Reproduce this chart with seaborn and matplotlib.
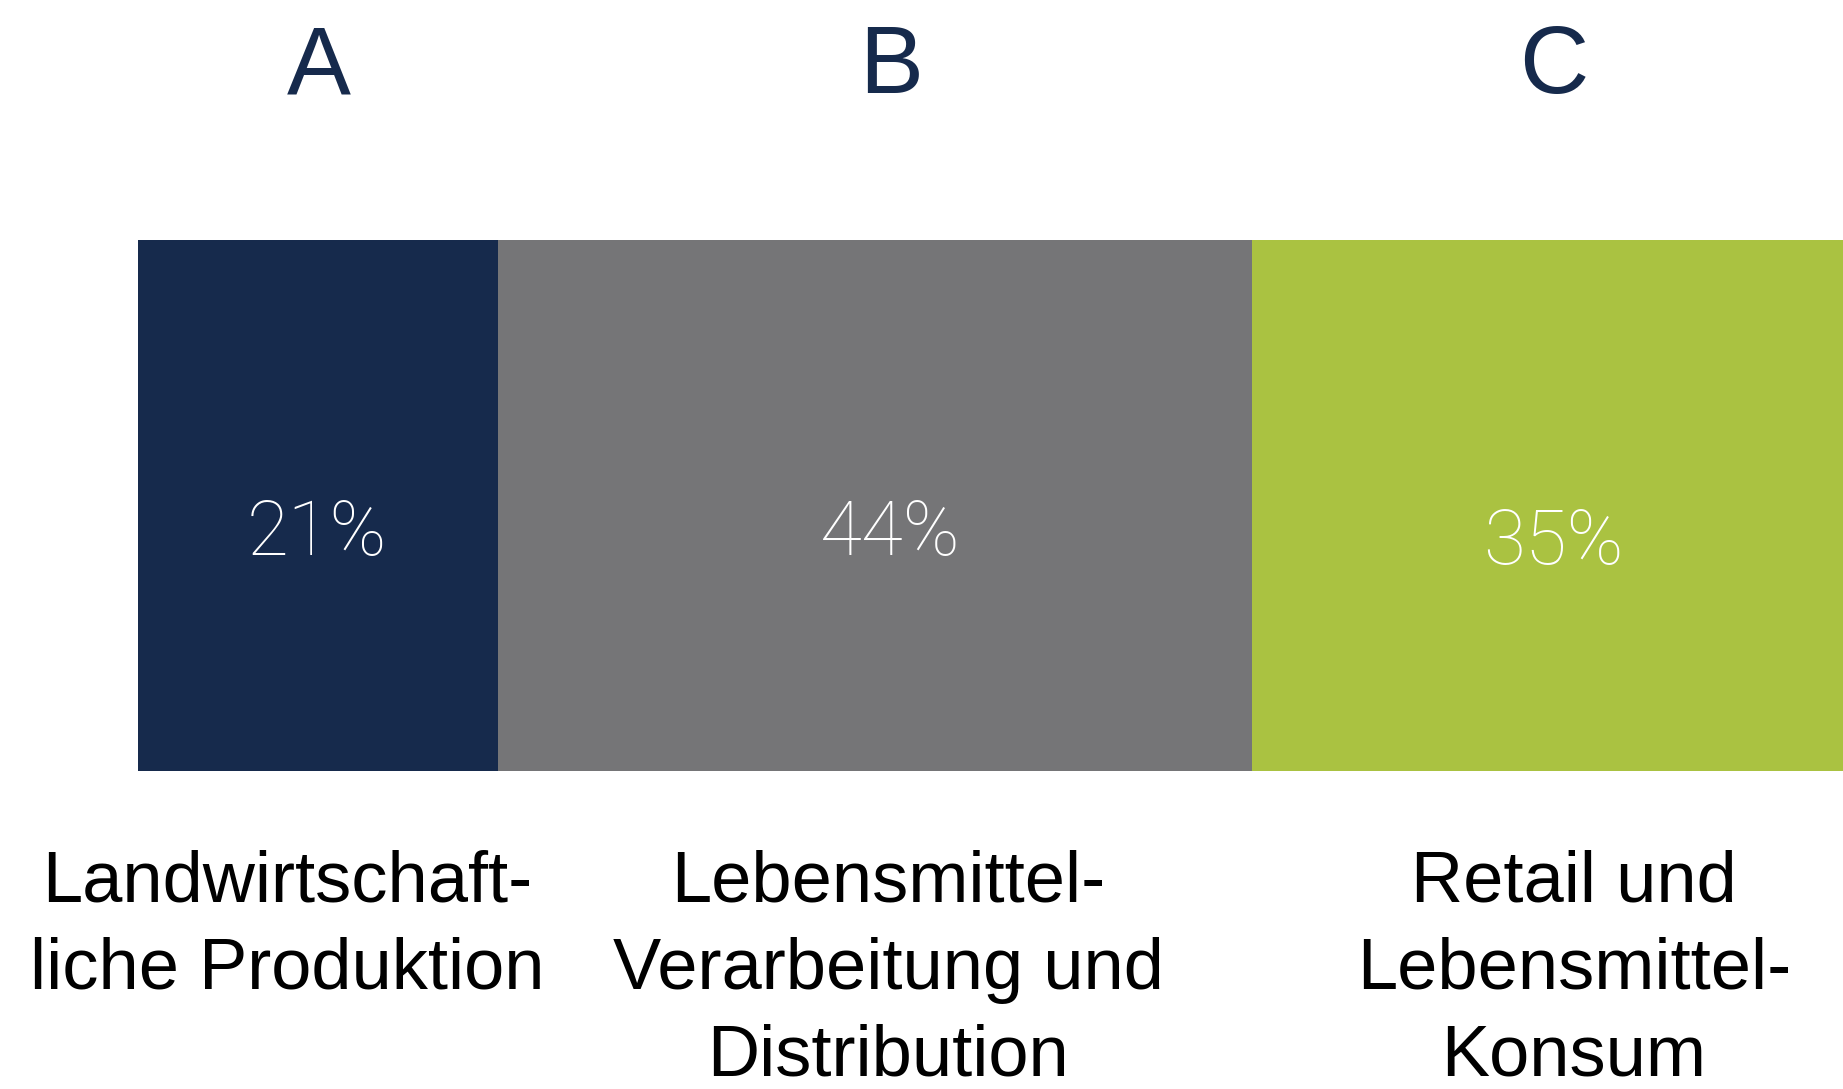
import numpy as np
import pandas as pd
import seaborn as sns
import matplotlib
matplotlib.use('Agg')
import matplotlib.pyplot as plt

# Daten
stufen = ['A', 'B', 'C']
anteile = [21, 44, 35]
beschriftungen = ['Landwirtschaft-\nliche Produktion',
                  'Lebensmittel-\nVerarbeitung und\nDistribution',
                  'Retail und\nLebensmittel-\nKonsum']
farben = ['#162A4C', '#757577', '#AAC241']

df = pd.DataFrame({'stufe': stufen, 'anteil': anteile})
df['kumuliert'] = np.cumsum(df['anteil'])

sns.set_theme(style='white')
plt.rcParams['font.family'] = ['Liberation Sans', 'DejaVu Sans']

W, H = 1843, 1089
fig = plt.figure(figsize=(W / 100, H / 100), dpi=100)
ax = fig.add_axes([137.5 / W, 1 - 771 / H, (1852 - 137.5) / W, (771 - 240) / H])

# gestapelter Balken: kumulierte Balken von hinten nach vorne
for i in reversed(range(len(df))):
    sns.barplot(x=[df['kumuliert'][i]], y=['Kette'], orient='h', color=farben[i],
                width=1, saturation=1, linewidth=0, ax=ax)

ax.set_xlim(0, 100)
ax.set_ylim(0.5, -0.5)
ax.axis('off')

# Positionen (Pixel)
x_buchst = [318.7, 891, 1554]
x_proz = [317, 890, 1553]
y_proz = [555, 555, 564]
x_label = [287, 888, 1574]

for i in range(len(df)):
    fig.text(x_buchst[i] / W, 1 - 93 / H, stufen[i], ha='center', va='baseline',
             fontsize=69, color='#162A4C')
    fig.text(x_proz[i] / W, 1 - y_proz[i] / H, f"{anteile[i]}%", ha='center', va='baseline',
             fontsize=55, color='white', family=['Roboto', 'Liberation Sans'], fontweight='light')
    fig.text(x_label[i] / W, 1 - 850 / H, beschriftungen[i], ha='center', va='top',
             fontsize=52, color='black', linespacing=1.38, multialignment='center')

fig.savefig('out.png', dpi=100)
